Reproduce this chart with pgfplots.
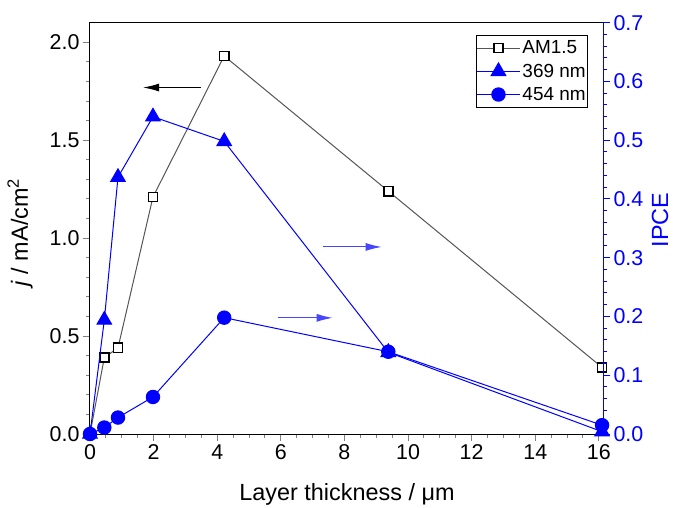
\documentclass[border=0pt]{standalone}
\usepackage{fontspec}
\setmainfont{Liberation Sans}
\usepackage{pgfplots}
\pgfplotsset{compat=1.18}
\usetikzlibrary{arrows.meta}
\definecolor{amgray}{RGB}{85,85,85}
\definecolor{arrblue}{RGB}{70,70,255}
\begin{document}
\begin{tikzpicture}
\path[use as bounding box] (-90bp,-74bp) rectangle (583bp,434bp);
\pgfplotsset{
  every axis/.append style={
    width=513bp, height=411.3bp, scale only axis,
    xmin=0, xmax=16.13,
    clip=false,
    tick align=outside,
    major tick length=7bp, minor tick length=4bp,
    /pgf/number format/assume math mode=true,
    tick label style={font=\fontsize{21.5}{24}\selectfont},
    label style={font=\fontsize{23.5}{26}\selectfont},
    tick style={line width=1bp},
    axis line style={line width=1bp},
  }
}
\begin{axis}[at={(0,0)}, anchor=south west,
  ymin=0, ymax=2.1,
  xtick={0,2,...,16}, minor x tick num=3,
  ytick={0,0.5,1,1.5,2}, minor y tick num=4,
  xtick pos=lower, ytick pos=left,
  yticklabel style={/pgf/number format/.cd, fixed, fixed zerofill, precision=1},
  xlabel={Layer thickness / μm},
  ylabel={\textit{j} / mA/cm\textsuperscript{2}},
  xlabel style={at={(axis description cs:0.501,-0.148)}, anchor=center},
  ylabel style={at={(axis description cs:-0.1365,0.49)}, anchor=center},
]
\addplot[amgray, line width=1bp, mark=square*, mark size=4.6bp,
  mark options={fill=white, draw=black, line width=1.6bp}] coordinates {
  (0,0) (0.45,0.39) (0.88,0.44) (1.98,1.21) (4.22,1.93) (9.38,1.24) (16.1,0.34)};
\draw[-{Latex[length=16bp,width=8bp]}, line width=1bp, black] (axis cs:3.49,1.769) -- (axis cs:1.67,1.769);
\draw[-{Latex[length=16bp,width=8bp]}, line width=1bp, arrblue] (axis cs:7.34,0.955) -- (axis cs:9.17,0.955);
\draw[-{Latex[length=16bp,width=8bp]}, line width=1bp, arrblue] (axis cs:5.90,0.593) -- (axis cs:7.63,0.593);
\end{axis}
\begin{axis}[at={(0,0)}, anchor=south west,
  ymin=0, ymax=0.7,
  axis y line*=right, axis x line=none,
  ytick={0,0.1,0.2,0.3,0.4,0.5,0.6,0.7}, minor y tick num=4,
  y axis line style={blue, line width=1bp},
  ytick style={blue, line width=1bp},
  minor y tick style={blue, line width=1bp},
  yticklabel style={blue, /pgf/number format/.cd, fixed, fixed zerofill, precision=1},
  ylabel={IPCE},
  ylabel style={blue, at={(axis description cs:1.111,0.52)}, anchor=center},
  legend cell align=left,
  legend style={at={(0.971,0.970)}, anchor=north east, draw=black, line width=1bp,
    font=\fontsize{19}{21}\selectfont, inner xsep=0pt, inner ysep=1bp,
    nodes={inner xsep=2bp, inner ysep=4.3bp}, row sep=0bp},
  legend image code/.code={\draw[mark repeat=2, mark phase=2] plot coordinates {(0bp,0bp) (21.5bp,0bp) (43bp,0bp)};},
]
\addlegendimage{amgray, line width=1bp, mark=square*, mark size=4.6bp,
  mark options={fill=white, draw=black, line width=1.6bp}}
\addlegendentry{AM1.5}
\addplot[blue, line width=1bp, mark=triangle*, mark size=8.4bp, mark options={fill=blue}] coordinates {
  (0,0) (0.45,0.194) (0.88,0.437) (1.98,0.54) (4.22,0.498) (9.38,0.139) (16.1,0.004)};
\addlegendentry{369 nm}
\addplot[blue, line width=1bp, mark=*, mark size=6.7bp, mark options={fill=blue}] coordinates {
  (0,0) (0.45,0.011) (0.88,0.028) (1.98,0.063) (4.22,0.198) (9.38,0.14) (16.1,0.015)};
\addlegendentry{454 nm}
\end{axis}
\end{tikzpicture}
\end{document}
